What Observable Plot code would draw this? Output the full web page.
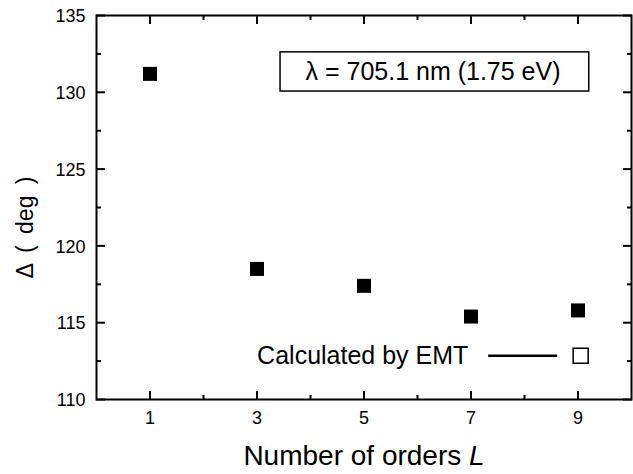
<!DOCTYPE html>
<html>
<head>
<meta charset="utf-8">
<script src="https://cdn.jsdelivr.net/npm/d3@7"></script>
<script src="https://cdn.jsdelivr.net/npm/@observablehq/plot@0.6"></script>
<style>
  html, body { margin: 0; padding: 0; background: #fff; }
  #chart svg { display: block; }
</style>
</head>
<body>
<div id="chart"></div>
<script>
// Data
const orders = [1, 3, 5, 7, 9];
const delta = [131.2, 118.5, 117.4, 115.4, 115.8];
const xMajorTicks = [1, 3, 5, 7, 9];
const xMinorTicks = [2, 4, 6, 8];
const yMajorTicks = [110, 115, 120, 125, 130, 135];
const yMinorTicks = [112.5, 117.5, 122.5, 127.5, 132.5];
const annotationText = ["λ = 705.1 nm (1.75 eV)"];
const legendText = ["Calculated by EMT"];
const xLabel = "Number of orders ";
const xLabelItalic = "L";
const yLabel = "Δ ( deg )";

const points = orders.map((L, i) => ({L, delta: delta[i]}));
const font = "'Liberation Sans', Arial, Helvetica, sans-serif";
const tickStyle = {text: null, label: null, stroke: "#000", strokeWidth: 2};

const chart = Plot.plot({
  width: 633,
  height: 474,
  marginLeft: 96,
  marginRight: 2,
  marginTop: 15,
  marginBottom: 75,
  style: {fontFamily: font, color: "#000", background: "#fff"},
  x: {domain: [0, 10]},
  y: {domain: [110, 135]},
  marks: [
    // inward ticks, bottom
    Plot.axisX(xMajorTicks, {anchor: "bottom", tickSize: -8, ...tickStyle}),
    Plot.axisX(xMinorTicks, {anchor: "bottom", tickSize: -4, ...tickStyle}),
    Plot.axisX(xMajorTicks, {anchor: "bottom", tickSize: 0, tickPadding: 12, fontSize: 18, label: null, fill: "#000"}),
    // inward ticks, top
    Plot.axisX(xMajorTicks, {anchor: "top", tickSize: -8, ...tickStyle}),
    Plot.axisX(xMinorTicks, {anchor: "top", tickSize: -4, ...tickStyle}),
    // left
    Plot.axisY(yMajorTicks, {anchor: "left", tickSize: -9, ...tickStyle}),
    Plot.axisY(yMinorTicks, {anchor: "left", tickSize: -5, ...tickStyle}),
    Plot.axisY(yMajorTicks, {anchor: "left", tickSize: 0, tickPadding: 11, dy: 1, fontSize: 18, label: null, fill: "#000", tickFormat: d => d}),
    // right
    Plot.axisY(yMajorTicks, {anchor: "right", tickSize: -9, ...tickStyle}),
    Plot.axisY(yMinorTicks, {anchor: "right", tickSize: -5, ...tickStyle}),
    Plot.frame({stroke: "#000", strokeWidth: 2}),
    // data
    Plot.dot(points, {x: "L", y: "delta", symbol: "square", r: 7.9, fill: "#000", stroke: "none"}),
    // annotation box
    Plot.rect(annotationText, {x1: 3.44, x2: 9.21, y1: 130.05, y2: 132.6, fill: "#fff", stroke: "#000", strokeWidth: 1.5}),
    Plot.text(annotationText, {x: 6.29, y: 131.32, text: d => d, fontSize: 25, fill: "#000"}),
    // legend
    Plot.text(legendText, {x: 6.95, y: 112.8, text: d => d, textAnchor: "end", fontSize: 25, fill: "#000"}),
    Plot.ruleY(legendText, {x1: 7.33, x2: 8.62, y: 112.85, stroke: "#000", strokeWidth: 2.5}),
    Plot.dot(legendText, {x: 9.05, y: 112.85, symbol: "square", r: 8.5, fill: "#fff", stroke: "#000", strokeWidth: 1.5}),
    // axis titles
    Plot.text([yLabel], {frameAnchor: "left", textAnchor: "middle", text: d => d, rotate: -90, dx: -71, dy: 20, fontSize: 23, fill: "#000"}),
    Plot.text([xLabel], {frameAnchor: "bottom", textAnchor: "middle", text: d => d, dy: 65, fontSize: 28, fill: "#000"})
  ]
});

// italicise the L in the x-axis title
d3.select(chart).selectAll("text").filter(function() { return this.textContent === xLabel; })
  .each(function() {
    const t = d3.select(this);
    t.text(null);
    t.append("tspan").text(xLabel);
    t.append("tspan").attr("font-style", "italic").text(xLabelItalic);
  });
// the y title has wide word spacing in the reference
d3.select(chart).selectAll("text").filter(function() { return this.textContent === yLabel; })
  .style("word-spacing", "5px");

document.getElementById("chart").appendChild(chart);
</script>
</body>
</html>
